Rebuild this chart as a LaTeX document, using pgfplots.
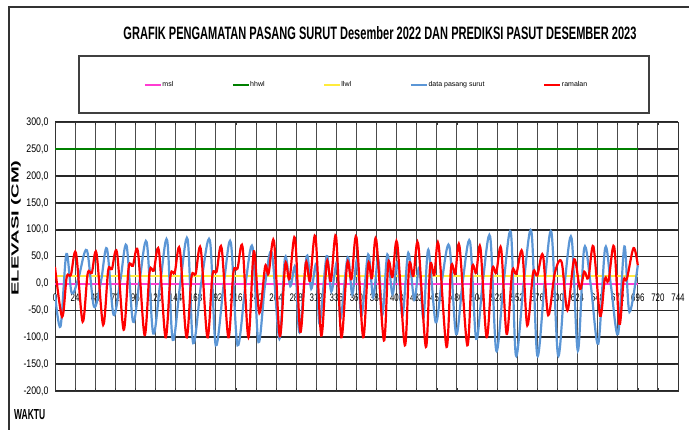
\documentclass[border=0pt]{standalone}
\usepackage{pgfplots}
\pgfplotsset{compat=1.18}
\usepackage{pgfplotstable}
\usepackage{fontspec}
\setmainfont{Liberation Sans}
\definecolor{obsblue}{RGB}{91,150,214}
\definecolor{hhgreen}{RGB}{0,128,0}
\definecolor{mslpink}{RGB}{255,60,210}
\definecolor{llyel}{RGB}{255,235,60}

\pgfplotstableread{
h v
0 -20
6.6 -80
13.6 55
20 -18
28 10
38 62
46.6 -43
55 5
62 65
69.9 -58
78 5
85.4 71
93.2 -71
101 5
109.5 77
117.3 -93
126 5
134 80
140.6 -105
150 5
158.4 82
165 -111
175 5
185 80
192 -115
202 5
210 76
218 -115
228 5
236 67
243 -109
251 0
259 57
268 -103
274.7 48
281 -5
287 30
292 -91
300.6 51
306 -10
312 35
316 -75
324.4 51
330 -15
337 40
341 -65
349.5 49
355 -20
361 45
366 -60
374 54
380 -25
386 45
391 -58
396.9 54
403 -20
409 40
415 -60
421.9 57
429 -30
435 30
440 -65
445.8 63
454.6 -72
462 5
470.9 70
479 -94
487 5
495.6 78
503 -103
511 5
519.7 87
527 -125
536 5
544.5 94
550.5 -134
560 5
569 96
576 -134
585 5
593 94
600.8 -134
609 5
617 84
624.4 -125
632 66
640 -5
648.8 -112
657 66
664 -5
672.4 -94
680 69
686 -53
696 34
}\obsdata

\pgfplotstableread{
h v
0 31
8.5 -62
14 12
19 16
25 57
33 -71
39 18
44 20
49.5 57
57.5 -77
63.5 24
68 27
74 58
82 -86
88 30
93 33
99 60
107 -96
113 22
118 24
124 62
132 -100
138 15
143 20
149 64
157 -100
163 12
168 18
174 65
182 -100
188 15
193 22
199 66
207 -100
213 20
218 28
224 68
231 -100
237.5 60
244 -55
251 32
255 18
261.5 79
268.5 -98
275 36
280 8
286.6 85
293 -90
299.5 38
304.5 5
311 88
318 -97
324.5 40
329.5 5
335.6 88
342 -100
349 38
354 8
360 86
368 -100
374 36
378.5 10
383.6 82
392.8 -106
398 38
403 12
408.6 76
417.8 -115
423 35
428 14
433.7 74
442.9 -118
448 33
453 16
458 73
467.6 -118
473 30
478 18
483 70
492.4 -115
498 28
503 20
508 67
515.5 -100
522 25
527 20
532.8 65
539.4 -94
546 22
551 18
558 59
564 -78
571 20
576 15
582.7 53
589 -59
597 20
605 40
612 -50
620 45
627 -10
632 22
637 10
643 69
651 -60
656.6 9
661 5
667.7 69
674 -75
679 5
683 9
690.9 66
696 34
}\preddata

\begin{document}
\begin{tikzpicture}[x=1pt,y=1pt]
\useasboundingbox (0,0) rectangle (689,430);
\draw[black!80, line width=1.6pt] (9,0) -- (9,423) -- (689,423);
\node[anchor=base, inner sep=0pt] at (380,390) {\resizebox{513pt}{13pt}{\bfseries GRAFIK PENGAMATAN PASANG SURUT Desember 2022 DAN PREDIKSI PASUT DESEMBER 2023}};
\draw[black!55, line width=1.6pt] (80,316.5) -- (649.5,316.5) -- (649.5,373);
\draw[black!75, line width=1.2pt] (79,317) rectangle (649,374);
\node[anchor=west, inner sep=0pt] at (14,15) {\resizebox{31pt}{10pt}{\bfseries WAKTU}};
\node[rotate=90, inner sep=0pt] at (16,202) {\resizebox{135pt}{7.5pt}{\bfseries ELEVASI (CM)}};
\begin{axis}[
  at={(55pt,39pt)}, anchor=south west,
  scale only axis, width=623pt, height=268.7pt,
  xmin=0, xmax=744, ymin=-200, ymax=300,
  xtick={0,24,...,744}, ytick={-200,-150,...,300},
  xmajorgrids=true, ymajorgrids=true,
  every axis x grid/.style={black!70, line width=0.9pt},
  every axis y grid/.style={black!85, line width=1.6pt},
  axis line style={black!80, line width=0.9pt},
  tick align=inside, major tick length=3pt,
  tick style={black!80, line width=0.6pt},
  /pgf/number format/assume math mode=true,
  yticklabel={\scalebox{0.8}[1]{\pgfmathprintnumber[fixed,fixed zerofill,precision=1,use comma]{\tick}}},
  xticklabel={\scalebox{0.72}[1]{\pgfmathprintnumber[fixed,precision=0]{\tick}}},
  yticklabel style={font=\fontsize{11}{11}\selectfont, xshift=-3pt},
  xticklabel style={font=\fontsize{11}{11}\selectfont, anchor=north, yshift=101pt},
  legend columns=5,
  legend style={at={(0.499,1.139)}, anchor=center, draw=none, fill=none,
     font=\fontsize{7}{7}\selectfont,
     nodes={inner sep=0.6pt},
     /tikz/every even column/.append style={column sep=58pt}},
  legend cell align=left,
  legend image code/.code={\draw[#1] (0pt,0pt) -- (16pt,0pt);},
]
\addplot[mslpink, line width=2pt] coordinates {(0,0) (348,0) (696,0)};
\addlegendentry{msl}
\addplot[hhgreen, line width=1.7pt] coordinates {(0,250) (348,250) (696,250)};
\addlegendentry{hhwl}
\addplot[llyel, line width=1.6pt] coordinates {(0,14) (348,14) (696,14)};
\addlegendentry{llwl}
\addplot[obsblue, line width=2.2pt, smooth, tension=0.55] table[x=h,y=v] {\obsdata};
\addlegendentry{data pasang surut}
\addplot[red, line width=2.2pt, smooth, tension=0.55] table[x=h,y=v] {\preddata};
\addlegendentry{ramalan}
\end{axis}
\end{tikzpicture}
\end{document}
